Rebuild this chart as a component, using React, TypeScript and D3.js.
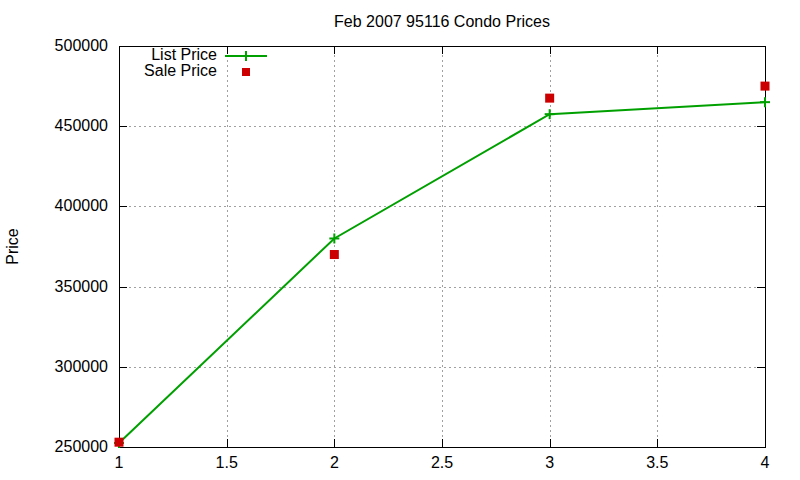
import { useEffect, useRef } from 'react';
import * as d3 from 'd3';

const xValues = [1, 2, 3, 4];
const listPrice = [252500, 380000, 457500, 465000];
const salePrice = [253000, 370000, 467500, 475000];
const xTicks = [1, 1.5, 2, 2.5, 3, 3.5, 4];
const yTicks = [250000, 300000, 350000, 400000, 450000, 500000];

const width = 800;
const height = 480;
const margin = { top: 46, right: 35, bottom: 33, left: 119 };
const green = '#00a000';
const red = '#cc0000';
const font = 'Liberation Sans, Arial, sans-serif';

export default function App() {
  const svgRef = useRef<SVGSVGElement>(null);

  useEffect(() => {
    if (!svgRef.current) return;
    const svg = d3.select(svgRef.current);
    svg.selectAll('*').remove();

    const x = d3
      .scaleLinear()
      .domain([1, 4])
      .range([margin.left, width - margin.right]);
    const y = d3
      .scaleLinear()
      .domain([250000, 500000])
      .range([height - margin.bottom, margin.top]);

    const x0 = x.range()[0];
    const x1 = x.range()[1];
    const y0 = y.range()[0];
    const y1 = y.range()[1];

    svg.append('rect').attr('width', width).attr('height', height).attr('fill', '#fff');

    // grid
    const grid = svg.append('g').attr('stroke', '#a0a0a0').attr('stroke-dasharray', '2,3').attr('stroke-width', 1);
    xTicks.slice(1, -1).forEach((t) => {
      grid.append('line').attr('x1', Math.round(x(t)) + 0.5).attr('x2', Math.round(x(t)) + 0.5).attr('y1', y0).attr('y2', y1);
    });
    yTicks.slice(1, -1).forEach((t) => {
      grid.append('line').attr('y1', Math.round(y(t)) + 0.5).attr('y2', Math.round(y(t)) + 0.5).attr('x1', x0).attr('x2', x1);
    });

    // ticks
    const ticks = svg.append('g').attr('stroke', '#000').attr('stroke-width', 1);
    xTicks.forEach((t) => {
      const px = Math.round(x(t)) + 0.5;
      ticks.append('line').attr('x1', px).attr('x2', px).attr('y1', y0).attr('y2', y0 - 8);
      ticks.append('line').attr('x1', px).attr('x2', px).attr('y1', y1).attr('y2', y1 + 8);
    });
    yTicks.forEach((t) => {
      const py = Math.round(y(t)) + 0.5;
      ticks.append('line').attr('y1', py).attr('y2', py).attr('x1', x0).attr('x2', x0 + 8);
      ticks.append('line').attr('y1', py).attr('y2', py).attr('x1', x1).attr('x2', x1 - 8);
    });

    // border
    svg
      .append('rect')
      .attr('x', x0 + 0.5)
      .attr('y', y1 + 0.5)
      .attr('width', x1 - x0)
      .attr('height', y0 - y1)
      .attr('fill', 'none')
      .attr('stroke', '#000')
      .attr('stroke-width', 1);

    const labels = svg.append('g').attr('font-family', font).attr('font-size', 16).attr('fill', '#000');
    xTicks.forEach((t) => {
      labels
        .append('text')
        .attr('x', x(t))
        .attr('y', y0 + 21)
        .attr('text-anchor', 'middle')
        .text(d3.format('')(t));
    });
    yTicks.forEach((t) => {
      labels
        .append('text')
        .attr('x', x0 - 11)
        .attr('y', y(t) + 5)
        .attr('text-anchor', 'end')
        .text(String(t));
    });

    svg
      .append('text')
      .attr('x', (x0 + x1) / 2)
      .attr('y', 27)
      .attr('text-anchor', 'middle')
      .attr('font-family', font)
      .attr('font-size', 16)
      .text('Feb 2007 95116 Condo Prices');

    svg
      .append('text')
      .attr('transform', `translate(18, ${(y0 + y1) / 2}) rotate(-90)`)
      .attr('text-anchor', 'middle')
      .attr('font-family', font)
      .attr('font-size', 16)
      .text('Price');

    // list price line
    const line = d3
      .line<number>()
      .x((_, i) => x(xValues[i]))
      .y((d) => y(d));
    svg
      .append('path')
      .datum(listPrice)
      .attr('d', line)
      .attr('fill', 'none')
      .attr('stroke', green)
      .attr('stroke-width', 2);

    const plus = (g: d3.Selection<SVGGElement, unknown, null, undefined>, cx: number, cy: number) => {
      g.append('line').attr('x1', cx - 5).attr('x2', cx + 5).attr('y1', cy).attr('y2', cy);
      g.append('line').attr('x1', cx).attr('x2', cx).attr('y1', cy - 5).attr('y2', cy + 5);
    };
    const marks = svg.append('g').attr('stroke', green).attr('stroke-width', 2);
    listPrice.forEach((v, i) => plus(marks, x(xValues[i]), y(v)));

    svg
      .append('g')
      .selectAll('rect')
      .data(salePrice)
      .join('rect')
      .attr('x', (_, i) => x(xValues[i]) - 4.5)
      .attr('y', (d) => y(d) - 4.5)
      .attr('width', 9)
      .attr('height', 9)
      .attr('fill', red);

    // legend
    const legend = svg.append('g').attr('font-family', font).attr('font-size', 16);
    legend.append('text').attr('x', 217).attr('y', 60).attr('text-anchor', 'end').text('List Price');
    legend.append('text').attr('x', 217).attr('y', 76).attr('text-anchor', 'end').text('Sale Price');
    legend.append('line').attr('x1', 225).attr('x2', 267).attr('y1', 56).attr('y2', 56).attr('stroke', green).attr('stroke-width', 2);
    const lm = legend.append('g').attr('stroke', green).attr('stroke-width', 2);
    plus(lm, 246, 56);
    legend.append('rect').attr('x', 242).attr('y', 68).attr('width', 8).attr('height', 8).attr('fill', red);
  }, []);

  return (
    <svg
      ref={svgRef}
      width={width}
      height={height}
      viewBox={`0 0 ${width} ${height}`}
      style={{ display: 'block', position: 'absolute', left: 0, top: 0 }}
    />
  );
}
